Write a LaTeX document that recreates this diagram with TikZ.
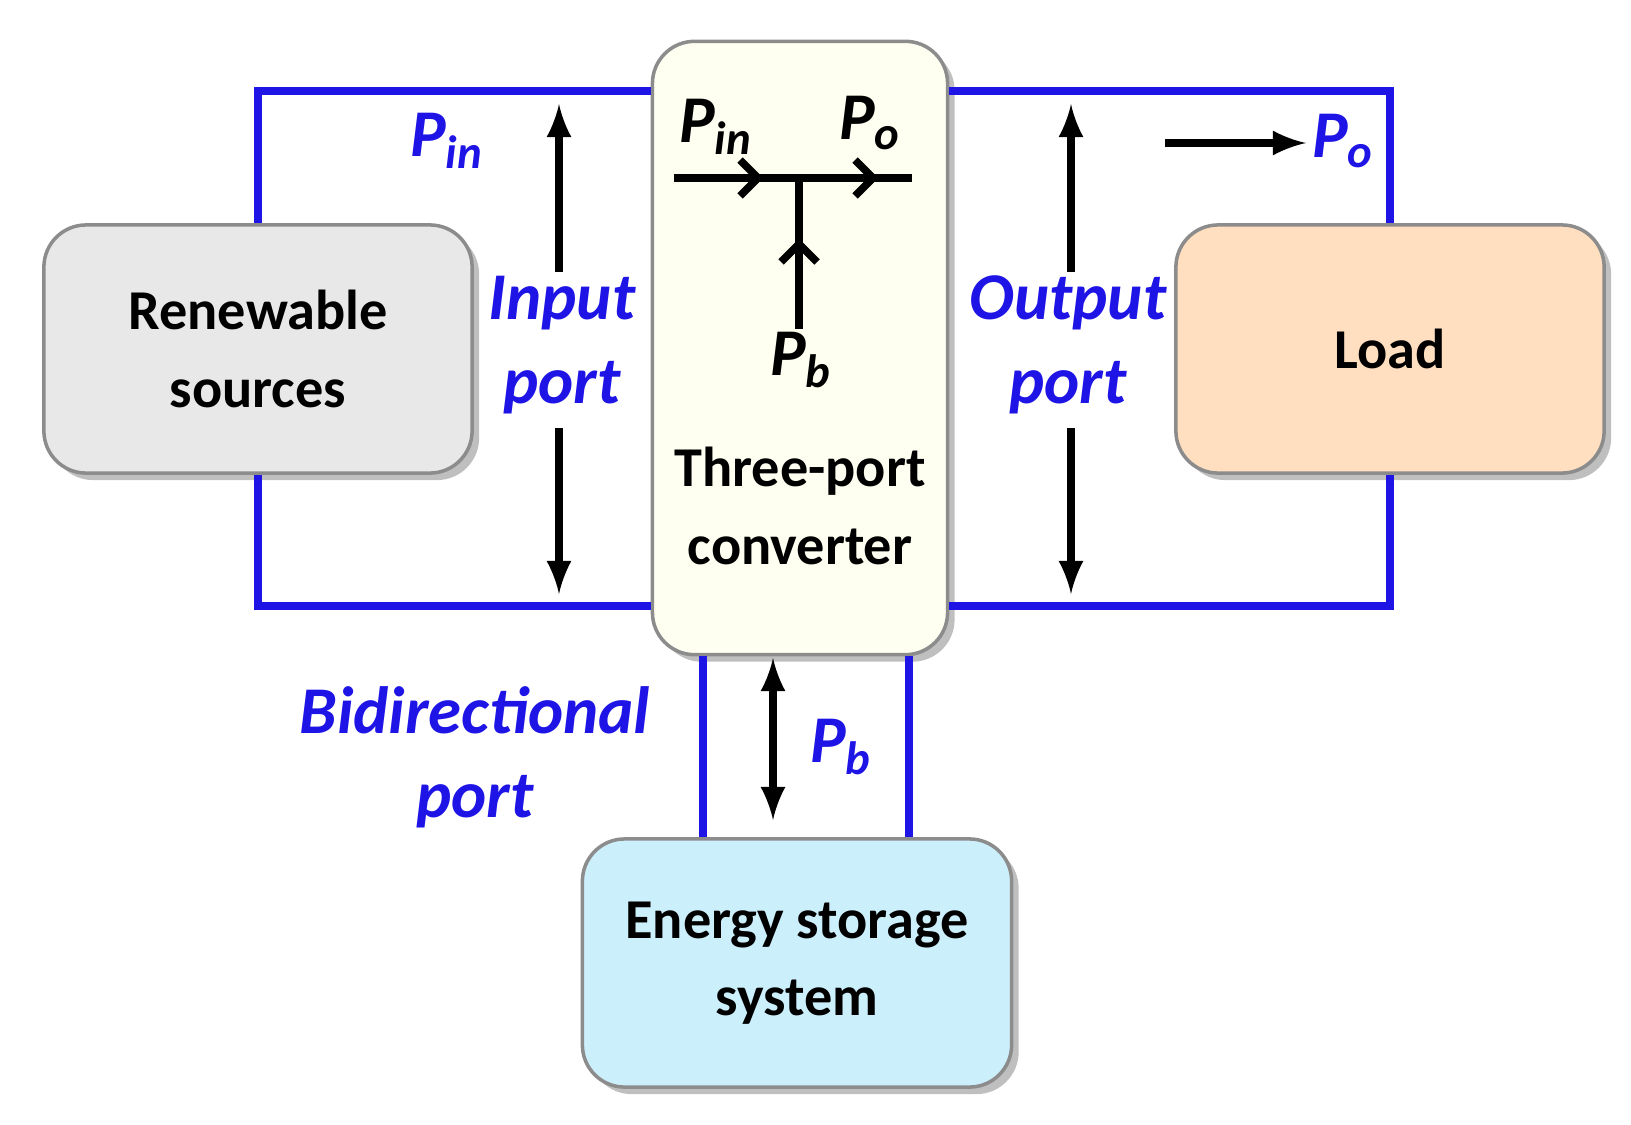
\documentclass[tikz,border=0pt]{standalone}
\usepackage{fontspec}
\setmainfont{Carlito}
\usetikzlibrary{positioning, shadows}
\definecolor{portblue}{RGB}{30,20,230}
\begin{document}
\begin{tikzpicture}[x=0.01cm, y=-0.01cm,
		box/.style={draw=black!45, rounded corners=12pt, line width=1pt, font=\fontsize{16}{22}\selectfont\bfseries, align=center, drop shadow={shadow xshift=2pt, shadow yshift=-2pt, opacity=0.5}},
		wire/.style={portblue, line width=2.2pt},
		flow/.style={-latex, line width=2.2pt},
		lbl/.style={portblue, font=\fontsize{19}{24}\selectfont\bfseries\itshape, align=center},
		chev/.style={line width=2.2pt}]
		\useasboundingbox (0,0) rectangle (1631,1124);
		\node[box, fill=gray!18, minimum width=4.28cm, minimum height=2.48cm] (src) at (258,349) {Renewable\\sources};
		\node[box, fill=green!5!yellow!6, minimum width=2.95cm, minimum height=6.13cm] (conv) at (800,348) {};
		\node[box, fill=orange!25, minimum width=4.28cm, minimum height=2.48cm] (load) at (1390,349) {Load};
		\node[box, fill=cyan!20, minimum width=4.29cm, minimum height=2.48cm] (ess) at (797,963) {Energy storage\\system};
		\node[font=\fontsize{16}{22}\selectfont\bfseries, align=center] (convtxt) at (800,506) {Three-port\\converter};
		% ports
		\draw[wire] (src.north) |- (conv.west |- 0,91);
		\draw[wire] (src.south) |- (conv.west |- 0,606);
		\draw[wire] (load.north) |- (conv.east |- 0,91);
		\draw[wire] (load.south) |- (conv.east |- 0,606);
		\draw[wire] (ess.north -| 703,0) -- (conv.south -| 703,0);
		\draw[wire] (ess.north -| 909,0) -- (conv.south -| 909,0);
		% power flows
		\coordinate (inup1) at (559,272); \coordinate (inup2) at (559,104);
		\coordinate (indn1) at (559,428); \coordinate (indn2) at (559,594);
		\coordinate (outup1) at (1071,272); \coordinate (outup2) at (1071,104);
		\coordinate (outdn1) at (1071,428); \coordinate (outdn2) at (1071,594);
		\draw[flow] (inup1) -- (inup2);
		\draw[flow] (indn1) -- (indn2);
		\draw[flow] (outup1) -- (outup2);
		\draw[flow] (outdn1) -- (outdn2);
		\coordinate (po1) at (1165,143); \coordinate (po2) at (1306,143);
		\draw[flow] (po1) -- (po2);
		\coordinate (bd1) at (773,658); \coordinate (bd2) at (773,820);
		\draw[latex-latex, line width=2.2pt] (bd1) -- (bd2);
		% junction inside converter
		\coordinate (jl) at (674,178); \coordinate (jr) at (912,178);
		\coordinate (jm) at (799,178); \coordinate (jb) at (799,329);
		\draw[chev] (jl) -- (jr);
		\draw[chev] (jm) -- (jb);
		\draw[chev] (740,160) -- (758,178) -- (740,196);
		\draw[chev] (855,160) -- (873,178) -- (855,196);
		\draw[chev] (781,262) -- (799,244) -- (817,262);
		\node[font=\fontsize{19}{22}\selectfont\bfseries\itshape] (pin1) at (716,127) {P\textsubscript{in}};
		\node[font=\fontsize{19}{22}\selectfont\bfseries\itshape] (po3) at (870,123) {P\textsubscript{o}};
		\node[font=\fontsize{19}{22}\selectfont\bfseries\itshape] (pb1) at (801,360) {P\textsubscript{b}};
		% labels
		\node[lbl] (pin) at (447,141) {P\textsubscript{in}};
		\node[lbl] (po) at (1343,141) {P\textsubscript{o}};
		\node[lbl] (pb) at (841,747) {P\textsubscript{b}};
		\node[lbl] (inport) at (562,345) {Input\\port};
		\node[lbl] (outport) at (1068,345) {Output\\port};
		\node[lbl] (biport) at (475,757) {Bidirectional\\port};
\end{tikzpicture}
\end{document}
